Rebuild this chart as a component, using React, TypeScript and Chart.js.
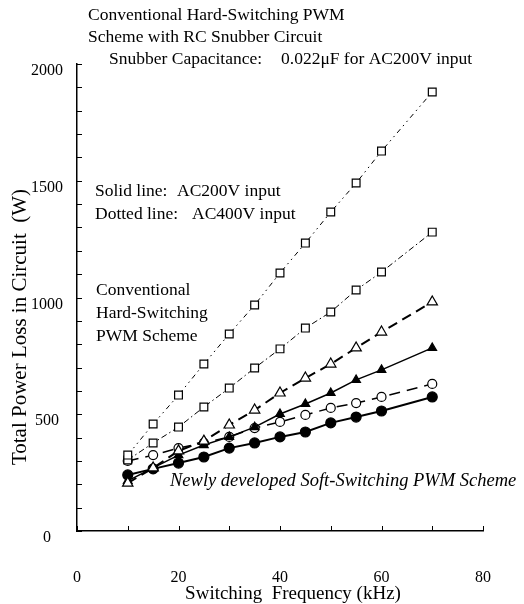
import React, { useEffect, useRef } from 'react';
import { Chart, registerables } from 'chart.js';

Chart.register(...registerables);

// Switching frequency (kHz)
const freqKHz = [10, 15, 20, 25, 30, 35, 40, 45, 50, 55, 60, 70];

// Total power loss (W)
const hardUpper = [325, 458, 582, 715, 844, 968, 1105, 1233, 1366, 1490, 1627, 1880];
const hardLower = [304, 377, 445, 531, 612, 698, 780, 869, 938, 1032, 1109, 1280];
const openTriangle = [205, 270, 343, 385, 454, 518, 591, 655, 715, 784, 852, 981];
const filledTriangle = [215, 270, 325, 368, 403, 445, 501, 544, 591, 647, 690, 784];
const openCircle = [300, 325, 355, 377, 403, 441, 467, 497, 527, 548, 574, 630];
const filledCircle = [240, 266, 291, 317, 355, 377, 403, 424, 463, 488, 514, 574];

const xMax = 80;
const yMax = 2000;
const xLabelStep = 20;
const yLabelStep = 500;

const xTitle = 'Switching  Frequency (kHz)';
const yTitle = 'Total Power Loss in Circuit  (W)';

const SERIF = '"Liberation Serif", "Times New Roman", serif';

const toPoints = (vals: number[]) => vals.map((v, i) => ({ x: freqKHz[i], y: v }));

const inwardTicks = {
  id: 'inwardTicks',
  afterDraw(chart: any) {
    const { ctx } = chart;
    const xs = chart.scales.x;
    const ys = chart.scales.y;
    ctx.save();
    ctx.strokeStyle = '#000';
    ctx.lineWidth = 1;
    ys.ticks.forEach((t: any) => {
      const py = Math.round(ys.getPixelForValue(t.value)) + 0.5;
      ctx.beginPath();
      ctx.moveTo(xs.left, py);
      ctx.lineTo(xs.left + 5, py);
      ctx.stroke();
    });
    xs.ticks.forEach((t: any) => {
      const px = Math.round(xs.getPixelForValue(t.value)) + 0.5;
      ctx.beginPath();
      ctx.moveTo(px, ys.bottom);
      ctx.lineTo(px, ys.bottom - 5);
      ctx.stroke();
    });
    ctx.restore();
  },
};

const annotations = {
  id: 'annotations',
  afterDraw(chart: any) {
    const { ctx } = chart;
    ctx.save();
    ctx.fillStyle = '#000';
    ctx.textBaseline = 'middle';
    ctx.textAlign = 'left';
    const put = (t: string, x: number, y: number, size = 17.5, italic = false) => {
      ctx.font = `${italic ? 'italic ' : ''}${size}px ${SERIF}`;
      ctx.fillText(t, x, y);
    };
    put('Conventional Hard-Switching PWM', 88, 15);
    put('Scheme with RC Snubber Circuit', 88, 37);
    put('Snubber Capacitance:', 109, 59);
    put('0.022\u03bcF for AC200V input', 281, 59);
    put('Solid line:', 95, 191);
    put('AC200V input', 177, 191);
    put('Dotted line:', 95, 214);
    put('AC400V input', 192, 214);
    put('Conventional', 96, 290);
    put('Hard-Switching', 96, 313);
    put('PWM Scheme', 96, 336);
    put('Newly developed Soft-Switching PWM Scheme', 170, 481, 18.5, true);
    // x-axis title
    ctx.textAlign = 'center';
    ctx.font = `19px ${SERIF}`;
    ctx.fillText(xTitle, 293, 594);
    // y-axis title
    ctx.translate(20, 327);
    ctx.rotate(-Math.PI / 2);
    ctx.font = `21px ${SERIF}`;
    ctx.fillText(yTitle, 0, 0);
    ctx.restore();
  },
};

export default function App() {
  const ref = useRef<HTMLCanvasElement>(null);

  useEffect(() => {
    if (!ref.current) return;
    const base = {
      borderColor: '#000',
      pointBorderColor: '#000',
      pointBorderWidth: 1.2,
      fill: false,
      tension: 0,
    };
    const chart = new Chart(ref.current, {
      type: 'line',
      data: {
        datasets: [
          {
            ...base,
            label: 'Hard-switching (upper)',
            data: toPoints(hardUpper),
            borderWidth: 1,
            borderDash: [5, 4, 1.5, 4, 1.5, 4],
            pointStyle: 'rect',
            pointRadius: 5.5,
            pointBackgroundColor: '#fff',
          },
          {
            ...base,
            label: 'Hard-switching (lower)',
            data: toPoints(hardLower),
            borderWidth: 1,
            borderDash: [6, 3, 1.5, 3],
            pointStyle: 'rect',
            pointRadius: 5.5,
            pointBackgroundColor: '#fff',
          },
          {
            ...base,
            label: 'Open triangle',
            data: toPoints(openTriangle),
            borderWidth: 2,
            borderDash: [10, 6],
            pointStyle: 'triangle',
            pointRadius: 6,
            pointBackgroundColor: '#fff',
          },
          {
            ...base,
            label: 'Filled triangle',
            data: toPoints(filledTriangle),
            borderWidth: 1.5,
            pointStyle: 'triangle',
            pointRadius: 5,
            pointBackgroundColor: '#000',
          },
          {
            ...base,
            label: 'Open circle',
            data: toPoints(openCircle),
            borderWidth: 1.5,
            borderDash: [11, 7],
            pointStyle: 'circle',
            pointRadius: 4.5,
            pointBackgroundColor: '#fff',
          },
          {
            ...base,
            label: 'Filled circle',
            data: toPoints(filledCircle),
            borderWidth: 2,
            pointStyle: 'circle',
            pointRadius: 5,
            pointBackgroundColor: '#000',
          },
        ],
      },
      options: {
        animation: false,
        responsive: false,
        layout: { padding: { top: 64, right: 41, bottom: 0, left: 0 } },
        plugins: { legend: { display: false }, tooltip: { enabled: false } },
        scales: {
          x: {
            type: 'linear',
            min: 0,
            max: xMax,
            afterFit: (s: any) => {
              s.height = 73;
              s.paddingLeft = 10;
              s.paddingRight = 10;
            },
            ticks: {
              stepSize: 10,
              autoSkip: false,
              maxRotation: 0,
              padding: 37,
              color: '#000',
              font: { family: SERIF, size: 16 },
              callback: (v: any) => (Number(v) % xLabelStep === 0 ? String(v) : ''),
            },
            grid: { drawOnChartArea: false, drawTicks: false },
            border: { display: true, color: '#000', width: 1.5 },
            title: { display: false },
          },
          y: {
            type: 'linear',
            min: 0,
            max: yMax,
            afterFit: (s: any) => {
              s.width = 77;
            },
            ticks: {
              stepSize: 100,
              autoSkip: false,
              padding: 14,
              labelOffset: 7,
              crossAlign: 'center',
              color: '#000',
              font: { family: SERIF, size: 16 },
              callback: (v: any) => (Number(v) % yLabelStep === 0 ? String(v) : ''),
            },
            grid: { drawOnChartArea: false, drawTicks: false },
            border: { display: true, color: '#000', width: 1.5 },
          },
        },
      },
      plugins: [inwardTicks, annotations],
    } as any);
    return () => chart.destroy();
  }, []);

  return (
    <div style={{ position: 'fixed', left: 0, top: 0, width: 524, height: 604, background: '#fff' }}>
      <canvas ref={ref} width={524} height={604} style={{ display: 'block' }} />
    </div>
  );
}
